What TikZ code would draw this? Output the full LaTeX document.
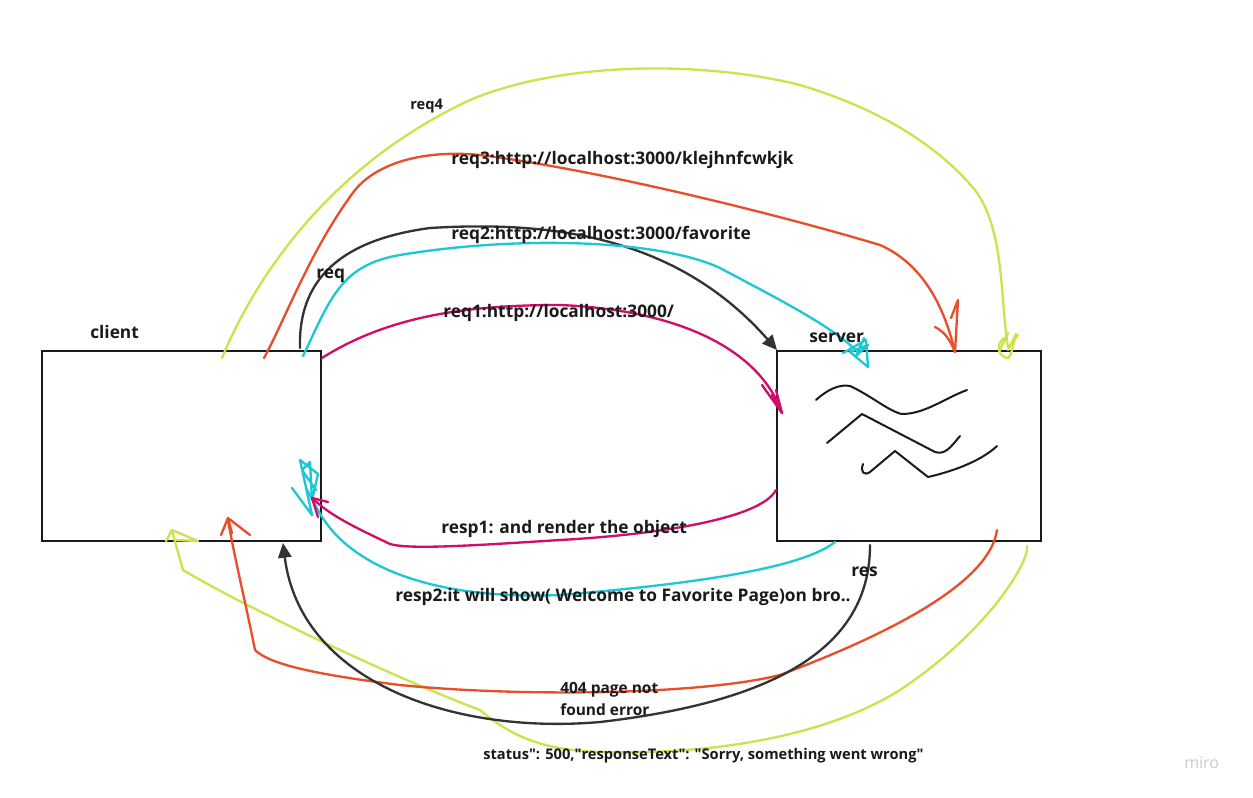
\documentclass[tikz,border=0pt]{standalone}
\usepackage{fontspec}
\setmainfont{Open Sans}
\usetikzlibrary{arrows.meta}
\definecolor{cyel}{HTML}{CDE24E}
\definecolor{cora}{HTML}{E94E2B}
\definecolor{ccya}{HTML}{1DC7D3}
\definecolor{cmag}{HTML}{CF0E6B}
\definecolor{cblk}{HTML}{333333}
\definecolor{ctxt}{HTML}{1A1A1A}
\begin{document}
\begin{tikzpicture}[x=0.75pt,y=-0.75pt,
  box/.style={draw=ctxt,line width=1.7pt},
  wire/.style={line width=1.75pt,line cap=round,line join=round},
  lbl/.style={anchor=west,inner sep=0pt,text=ctxt,font=\fontsize{13}{15}\selectfont\bfseries},
  slbl/.style={anchor=west,inner sep=0pt,text=ctxt,font=\fontsize{11.6}{17}\selectfont\bfseries},
  tlbl/.style={anchor=west,inner sep=0pt,text=ctxt,font=\fontsize{11}{13}\selectfont\bfseries},
  fat/.style={-{Triangle[length=11pt,width=10pt]}}]
\useasboundingbox (0,0) rectangle (1253,797);
\fill[white] (0,0) rectangle (1253,797);
% boxes
\draw[box] (42,351) rectangle (321,541);
\node[minimum width=279*0.75pt,minimum height=190*0.75pt,inner sep=0pt] (client) at (181.5,446) {};
\draw[box] (777,351) rectangle (1041,541);
\node[minimum width=264*0.75pt,minimum height=190*0.75pt,inner sep=0pt] (server) at (909,446) {};
% endpoint coordinates
\coordinate (y1s) at (222,358); \coordinate (y1e) at (1008,347);
\coordinate (o1s) at (264,358); \coordinate (o1e) at (955,352);
\coordinate (b1s) at (300,348); \coordinate (b1e) at (777,350);
\coordinate (c1s) at (303,356); \coordinate (c1e) at (858,352);
\coordinate (m1s) at (322,358); \coordinate (m1e) at (782,413);
\coordinate (y2s) at (1027,546); \coordinate (y2e) at (172,531);
\coordinate (o2s) at (997,530); \coordinate (o2e) at (228,520);
\coordinate (b2s) at (870,545); \coordinate (b2e) at (283,543);
\coordinate (c2s) at (835,542); \coordinate (c2e) at (306,488);
\coordinate (m2s) at (776,490); \coordinate (m2e) at (312,498);
% requests
\draw[wire,cyel] (y1s) .. controls (250,290) and (320,170) .. (470,100)
  .. controls (560,62) and (700,60) .. (800,85)
  .. controls (900,115) and (950,160) .. (975,190)
  .. controls (1005,230) and (1000,300) .. (y1e);
\draw[wire,cyel] (1000,350) -- (1008,333) (1008,350) -- (1016,334)
  (1004,338) .. controls (994,346) and (1000,358) .. (1008,358) .. controls (1014,352) and (1012,340) .. (1018,335);
\draw[wire,cora] (o1s) .. controls (285,320) and (310,250) .. (355,190)
  .. controls (380,160) and (430,150) .. (480,155)
  .. controls (600,170) and (780,215) .. (880,245)
  .. controls (925,265) and (945,310) .. (o1e);
\draw[wire,cora] (935,327) .. controls (945,332) and (950,340) .. (o1e) -- (958,300) -- (951,318);
\draw[wire,cblk,fat] (b1s) .. controls (298,280) and (340,240) .. (430,228)
  .. controls (560,220) and (680,240) .. (b1e);
\draw[wire,ccya] (c1s) .. controls (330,300) and (340,265) .. (400,255)
  .. controls (520,235) and (660,240) .. (720,268)
  .. controls (780,300) and (830,325) .. (c1e);
\draw[wire,ccya] (843,353) -- (866,340) -- (868,367) -- (850,352) -- (868,345) -- (856,356) -- (864,338);
\draw[wire,cmag] (m1s) .. controls (390,315) and (470,305) .. (560,305)
  .. controls (680,310) and (760,350) .. (m1e);
\draw[wire,cmag] (762,385) -- (782,413) -- (772,395) (782,413) -- (776,390);
% responses
\draw[wire,cyel] (y2s) .. controls (1030,560) and (990,630) .. (900,690)
  .. controls (820,740) and (700,755) .. (600,752)
  .. controls (540,750) and (510,735) .. (480,710)
  .. controls (400,680) and (250,610) .. (183,570) -- (y2e);
\draw[wire,cyel] (166,541) -- (172,530) -- (198,541) -- (176,540);
\draw[wire,cora] (o2s) .. controls (990,580) and (900,630) .. (780,675)
  .. controls (700,695) and (520,697) .. (400,685)
  .. controls (320,675) and (270,665) .. (255,650)
  .. controls (245,600) and (235,560) .. (o2e);
\draw[wire,cora] (221,535) -- (228,518) -- (250,535) (228,518) -- (232,533);
\draw[wire,cblk,fat] (b2s) .. controls (870,640) and (790,700) .. (600,722)
  .. controls (450,735) and (300,680) .. (b2e);
\draw[wire,ccya] (c2s) .. controls (800,570) and (680,585) .. (560,595)
  .. controls (440,600) and (350,570) .. (318,510) -- (c2e);
\draw[wire,ccya] (292,488) -- (312,515) -- (300,460) -- (318,474) -- (312,500) -- (310,462) -- (302,470) -- (316,490);
\draw[wire,cmag] (m2s) .. controls (760,520) and (650,535) .. (560,540)
  .. controls (480,545) and (410,550) .. (390,544)
  .. controls (350,525) and (330,515) .. (m2e);
\draw[wire,cmag] (312,498) -- (328,502) (312,498) -- (318,517);
% server squiggles
\draw[wire,ctxt,line width=1.5pt] (816,400) .. controls (828,389) and (840,384) .. (850,386)
  .. controls (870,395) and (890,412) .. (902,414)
  .. controls (925,414) and (945,398) .. (967,390);
\draw[wire,ctxt,line width=1.5pt] (827,443) -- (862,414) -- (935,452) .. controls (945,455) and (950,448) .. (960,436);
\draw[wire,ctxt,line width=1.5pt] (863,464) .. controls (860,472) and (864,476) .. (870,472)
  -- (895,451) -- (928,477) .. controls (950,472) and (980,462) .. (997,446);
% labels
\node[tlbl] (lreq4) at (410,106) {req4};
\node[lbl] (lreq3) at (451,160) {req3:http://localhost:3000/klejhnfcwkjk};
\node[lbl] (lreq2) at (451,235) {req2:http://localhost:3000/favorite};
\node[lbl] (lreq) at (316,276) {req};
\node[lbl] (lreq1) at (443,313) {req1:http://localhost:3000/};
\node[lbl] (lclient) at (90,332) {client};
\node[lbl] (lserver) at (809,338) {server};
\node[lbl] (lresp1) at (441,529) {resp1: and render the object};
\node[lbl] (lres) at (851,572) {res};
\node[lbl] (lresp2) at (395,597) {resp2:it will show( Welcome to Favorite Page)on bro..};
\node[slbl,align=left] (l404) at (560,699) {404 page not\\found error};
\node[tlbl] (lstatus) at (483,756) {status\textquotedbl: 500,\textquotedbl responseText\textquotedbl: \textquotedbl Sorry, something went wrong\textquotedbl};
\node[anchor=west,inner sep=0pt,text=black!20,font=\fontsize{12}{13}\selectfont] (miro) at (1184,763) {miro};
\end{tikzpicture}
\end{document}
